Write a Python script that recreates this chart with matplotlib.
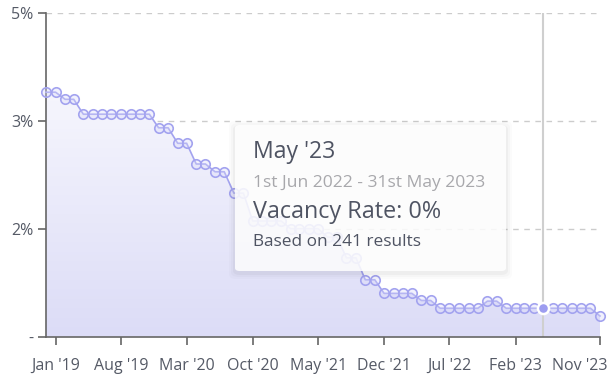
"""
Vacancy rate over time, with a hover tooltip for May '23.
"""

import numpy as np
import pandas as pd
import matplotlib
matplotlib.use("Agg")
import matplotlib.pyplot as plt
import matplotlib.dates as mdates
import matplotlib.transforms as mtransforms
from matplotlib.patches import FancyBboxPatch

plt.rcParams['font.family'] = ['Open Sans', 'DejaVu Sans']

# monthly data, Dec '18 .. Nov '23
months = pd.date_range("2018-12-01", "2023-11-01", freq="MS")
vacancy_rate = [
    3.78, 3.78, 3.67, 3.67, 3.44, 3.44, 3.44, 3.44, 3.44, 3.44,
    3.44, 3.44, 3.23, 3.23, 2.99, 2.99, 2.67, 2.67, 2.55, 2.55,
    2.22, 2.22, 1.79, 1.79, 1.79, 1.79, 1.67, 1.67, 1.67, 1.67,
    1.54, 1.54, 1.22, 1.22, 0.88, 0.88, 0.67, 0.67, 0.67, 0.67,
    0.56, 0.56, 0.44, 0.44, 0.44, 0.44, 0.44, 0.55, 0.55, 0.44,
    0.44, 0.44, 0.44, 0.44, 0.44, 0.44, 0.44, 0.44, 0.44, 0.32,
]

tick_dates = ["2019-01-01", "2019-08-01", "2020-03-01", "2020-10-01", "2021-05-01",
              "2021-12-01", "2022-07-01", "2023-02-01", "2023-11-01"]
tick_labels = ["Jan '19", "Aug '19", "Mar '20", "Oct '20", "May '21",
               "Dec '21", "Jul '22", "Feb '23", "Nov '23"]

y_ticks = [0, 5 / 3, 10 / 3, 5]
y_tick_labels = ["-", "2%", "3%", "5%"]

hover_month = "2023-05-01"
tooltip_title = "May '23"
tooltip_period = "1st Jun 2022 - 31st May 2023"
tooltip_value = "Vacancy Rate: 0%"
tooltip_count = "Based on 241 results"

line_color = '#a3a3ef'
text_color = '#555a66'

W, H = 613, 384
fig = plt.figure(figsize=(W / 100, H / 100), dpi=100)
ax = fig.add_axes([46 / W, (H - 336.7) / H, (600 - 46) / W, (336.7 - 13.3) / H])

x = mdates.date2num(months)
y = np.array(vacancy_rate)

# gradient area under the line
poly = ax.fill_between(x, 0, y, color='none', lw=0)
grad = np.linspace(0, 1, 256).reshape(-1, 1)
cmap = matplotlib.colors.LinearSegmentedColormap.from_list(
    'area', ['#dcdcf7', '#f6f6fd'])
img = ax.imshow(grad, cmap=cmap, aspect='auto', origin='lower',
                extent=[x[0], x[-1], 0, 3.8], zorder=1)
img.set_clip_path(poly.get_paths()[0], transform=ax.transData)

# grid
for v in y_ticks[1:]:
    ax.axhline(v, color='#cccccc', lw=1, ls=(0, (4, 4)), zorder=0)

# hover line
hx = mdates.date2num(pd.Timestamp(hover_month))
ax.axvline(hx, color='#cfcfcf', lw=1.5, zorder=2)

ax.plot(x, y, color=line_color, lw=1.2, marker='o', ms=6.8,
        mfc=(0.85, 0.85, 0.98, 0.35), mec=line_color, mew=1.2, zorder=3,
        clip_on=False)
hi = months.get_loc(pd.Timestamp(hover_month))
ax.plot([x[hi]], [y[hi]], marker='o', ms=8, mfc='#9d9df0', mec='white',
        mew=1.8, zorder=4, clip_on=False)

ax.set_xlim(x[0], x[-1])
ax.set_ylim(0, 5)
ax.set_xticks(mdates.date2num(pd.to_datetime(tick_dates)))
ax.set_xticklabels(tick_labels)
ax.set_yticks(y_ticks)
ax.set_yticklabels(y_tick_labels)
ax.tick_params(colors='#666666', labelcolor=text_color, labelsize=11.5,
               length=6, width=1.2)
ax.tick_params(axis='x', pad=9)
ax.tick_params(axis='y', pad=3)
for s in ['top', 'right']:
    ax.spines[s].set_visible(False)
for s in ['left', 'bottom']:
    ax.spines[s].set_color('#666666')
    ax.spines[s].set_linewidth(1.2)
ax.patch.set_alpha(0)

# last tick label is pulled in so it fits the figure
last = ax.get_xticklabels()[-1]
last.set_horizontalalignment('right')
last.set_transform(last.get_transform() +
                   mtransforms.ScaledTranslation(8 / 100, 0, fig.dpi_scale_trans))

# tooltip box (pixel coords -> figure fraction)
bx0, by0, bx1, by1 = 235, 125, 506, 271
for i, a in enumerate([0.015, 0.02, 0.03]):
    pad = 6 - 2 * i
    sh = FancyBboxPatch(((bx0 - pad) / W, (H - by1 - pad - 2) / H),
                        (bx1 - bx0 + 2 * pad) / W, (by1 - by0 + 2 * pad) / H,
                        boxstyle='round,pad=0,rounding_size=0.012',
                        transform=fig.transFigure, fc='black', ec='none',
                        alpha=a, zorder=5)
    fig.patches.append(sh)
box = FancyBboxPatch((bx0 / W, (H - by1) / H), (bx1 - bx0) / W, (by1 - by0) / H,
                     boxstyle='round,pad=0,rounding_size=0.008',
                     transform=fig.transFigure, fc=(1, 1, 1, 0.86),
                     ec='none', zorder=6)
fig.patches.append(box)

tx = 253 / W
fig.text(tx, (H - 152) / H, tooltip_title, fontsize=16.6, color='#4f5463',
         va='center', zorder=7)
fig.text(tx, (H - 183) / H, tooltip_period, fontsize=12.6, color='#a8a8ac',
         va='center', zorder=7)
fig.text(tx, (H - 212) / H, tooltip_value, fontsize=16.8, color='#4f5463',
         va='center', zorder=7)
fig.text(tx, (H - 242) / H, tooltip_count, fontsize=12.4, color='#4f5463',
         va='center', zorder=7)

plt.savefig('out.png', dpi=100)
